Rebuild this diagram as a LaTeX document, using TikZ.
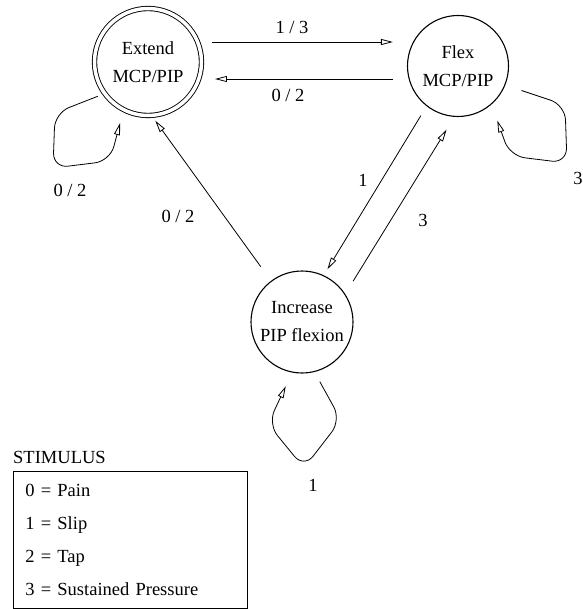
\documentclass[tikz,border=0pt]{standalone}
\usepackage{fontspec}
\setmainfont{Liberation Serif}
\usetikzlibrary{arrows.meta}

\begin{document}
\begin{tikzpicture}[
    x=1pt, y=-1pt,
    >={Triangle[open, length=12pt, width=6pt]},
    font=\fontsize{18.5}{28}\selectfont,
    state/.style={circle, draw=black, line width=1.1pt, inner sep=0pt, align=center, minimum size=101pt},
    accept/.style={state, double, double distance=3.5pt, line width=0.9pt, minimum size=107pt},
    arrowline/.style={->, line width=0.8pt},
    loopline/.style={arrowline, rounded corners=15pt},
    lbl/.style={inner sep=0pt}
]

\useasboundingbox (0,0) rectangle (582,609);

% ==================== STATES ====================
\node[accept] (ext) at (148,62) {Extend\\MCP/PIP};
\node[state] (flex) at (458,66) {Flex\\MCP/PIP};
\node[state, minimum size=102pt] (inc) at (302,322) {Increase\\PIP flexion};

% ==================== TRANSITIONS ====================
% top pair
\draw[arrowline, shorten <=10pt, shorten >=14pt] ([yshift=20pt]ext.east) -- ([yshift=24pt]flex.west);
\draw[arrowline, shorten <=14pt, shorten >=13pt] ([yshift=-13pt]flex.west) -- ([yshift=-17pt]ext.east);

% diagonals
\draw[arrowline, shorten <=17.5pt, shorten >=6pt] (inc.127) -- (ext.-86);
\draw[arrowline, shorten <=11pt, shorten >=7pt] (flex.232) -- (inc.65);
\draw[arrowline, shorten <=15pt, shorten >=15pt] (inc.33) -- (flex.266);

% self loops
\draw[loopline, shorten <=7pt, shorten >=13.5pt] (ext.216)
    -- ([shift={(-93,51)}]ext.center) -- ([shift={(-95,106)}]ext.center)
    -- ([shift={(-38,99)}]ext.center) -- (ext.243);
\draw[loopline, shorten <=17pt, shorten >=17pt] (flex.-22)
    -- ([shift={(107,39)}]flex.center) -- ([shift={(109,97)}]flex.center)
    -- ([shift={(52,90)}]flex.center) -- (flex.-49);
\draw[loopline, shorten <=11pt, shorten >=15pt] (inc.-76)
    -- ([shift={(39,98)}]inc.center) -- ([shift={(2,146)}]inc.center)
    -- ([shift={(-34,102)}]inc.center) -- (inc.-101);

% Labels
\node[lbl] (l13) at (292,27) {1 / 3};
\node[lbl] (l02a) at (288,95) {0 / 2};
\node[lbl] (l02b) at (70,190) {0 / 2};
\node[lbl] (l02c) at (178,216) {0 / 2};
\node[lbl] (l1a) at (363,180) {1};
\node[lbl] (l3a) at (423,220) {3};
\node[lbl] (l3b) at (578,178) {3};
\node[lbl] (l1b) at (313,485) {1};

% ==================== LEGEND ====================
\node[lbl, anchor=west] (stimtitle) at (13,457) {STIMULUS};
\node[draw, line width=0.9pt, anchor=north west, minimum width=234pt, minimum height=137pt,
      text width=210pt, inner xsep=12pt, align=left, font=\fontsize{18.5}{33}\selectfont]
    (legend) at (13,471) {0 = Pain\\1 = Slip\\2 = Tap\\3 = Sustained Pressure};

\end{tikzpicture}
\end{document}
